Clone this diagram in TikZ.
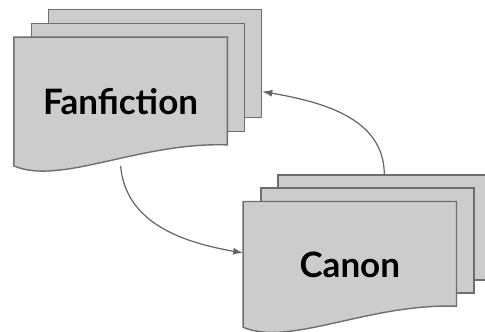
\documentclass[tikz,border=0pt]{standalone}
\usepackage{fontspec}
\setmainfont{Lato}
\usetikzlibrary{arrows.meta,backgrounds}
\definecolor{sheetfill}{RGB}{204,204,204}
\definecolor{sheetline}{RGB}{110,110,110}
\definecolor{linkline}{RGB}{100,100,100}
\tikzset{
  sheet/.style={draw=sheetline,fill=sheetfill,line width=1.4pt,minimum width=213pt,inner sep=0pt,anchor=north west},
  doc/.style={minimum width=213pt,inner sep=0pt,font=\bfseries\fontsize{35}{40}\selectfont,text=black},
  wave/.style={draw=sheetline,fill=sheetfill,line width=1.4pt},
  link/.style={draw=linkline,line width=1.2pt,-{Latex[length=10pt,width=7pt]}}
}
\begin{document}
\begin{tikzpicture}[x=1pt,y=1pt]
\useasboundingbox (0,0) rectangle (485,332);
\node[doc,minimum height=128.4pt] (fan) at (120.6,230.5) {Fanfiction};
\node[doc,minimum height=125.3pt] (canon) at (349.8,67.65) {Canon};
\begin{scope}[on background layer]
% fanfiction stack
\node[sheet,minimum height=108pt] (fanback) at ([shift={(34,28)}]fan.north west) {};
\node[sheet,minimum height=108pt] (fanmid) at ([shift={(17,14)}]fan.north west) {};
\filldraw[wave] (fan.north west) -- (fan.north east) -- ([yshift=21]fan.south east)
  .. controls ([shift={(-88,24)}]fan.south east) and ([shift={(46,-20)}]fan.south west) .. (fan.south west) -- cycle;
% canon stack
\node[sheet,minimum height=105pt] (canonback) at ([shift={(34,27)}]canon.north west) {};
\node[sheet,minimum height=105pt] (canonmid) at ([shift={(17,14)}]canon.north west) {};
\filldraw[wave] (canon.north west) -- (canon.north east) -- ([yshift=21]canon.south east)
  .. controls ([shift={(-88,24)}]canon.south east) and ([shift={(46,-20)}]canon.south west) .. (canon.south west) -- cycle;
\end{scope}
\draw[link] (fan.south) to[out=-85,in=170] ([yshift=11.4]canon.west);
\draw[link] (canonback.north) to[out=90,in=-10] ([yshift=-27.7]fanback.east);
\end{tikzpicture}
\end{document}
